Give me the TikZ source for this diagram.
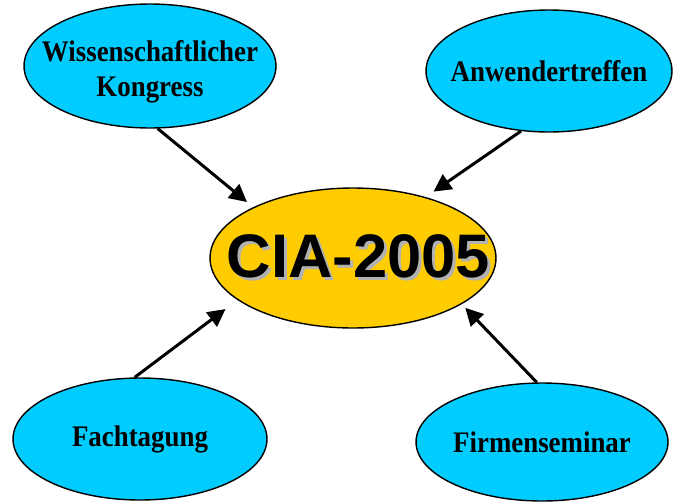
\documentclass[tikz,border=0pt]{standalone}
\usepackage{fontspec}
\setmainfont[FakeStretch=0.9]{Liberation Serif}
\newfontfamily\ciafont{Liberation Sans}
\usetikzlibrary{shapes.geometric,arrows.meta}
\definecolor{himmel}{RGB}{0,204,255}
\definecolor{gold}{RGB}{255,204,0}
\definecolor{schatten}{RGB}{178,178,178}

\begin{document}
\begin{tikzpicture}[x=0.02cm, y=-0.02cm,
		blase/.style={ellipse, draw=black, line width=0.8pt, fill=himmel, inner sep=0pt},
		schrift/.style={align=center, inner sep=0pt, font=\fontsize{17}{20}\selectfont\bfseries},
		pfeil/.style={line width=1.7pt, -{Triangle[length=10pt, width=10pt]}}]

	\useasboundingbox (0, 0) rectangle (675, 501);

	\node[blase, minimum width=5.04cm, minimum height=2.48cm, label={[schrift, yshift=-3.5pt]center:{Wissenschaftlicher\\Kongress}}] (kongress) at (150, 66) {};
	\node[blase, minimum width=4.92cm, minimum height=2.44cm, label={[schrift]center:Anwendertreffen}] (treffen) at (549, 71) {};
	\node[blase, minimum width=5.08cm, minimum height=2.44cm, label={[schrift]center:Fachtagung}] (tagung) at (140, 439) {};
	\node[blase, minimum width=5.04cm, minimum height=2.36cm, label={[schrift]center:Firmenseminar}] (seminar) at (542, 442) {};

	\node[ellipse, draw=black, line width=0.8pt, fill=gold, minimum width=5.72cm, minimum height=2.8cm, inner sep=0pt,
		label={[inner sep=0pt, xshift=3pt, font=\ciafont\fontsize{35}{40}\selectfont\bfseries]center:{\makebox[0pt][l]{\hspace{1.7pt}\raisebox{-1.7pt}{\color{schatten}CIA-2005}}CIA-2005}}] (cia) at (353, 258) {};

	\draw[pfeil, shorten >=0.16cm] (kongress.-83) -- (cia.153);
	\draw[pfeil, shorten >=0.19cm] (treffen.-115) -- (cia.40);
	\draw[pfeil, shorten >=0.3cm] (tagung.95) -- (cia.200);
	\draw[pfeil, shorten >=0.1cm] (seminar.95) -- (cia.-23);
\end{tikzpicture}
\end{document}
